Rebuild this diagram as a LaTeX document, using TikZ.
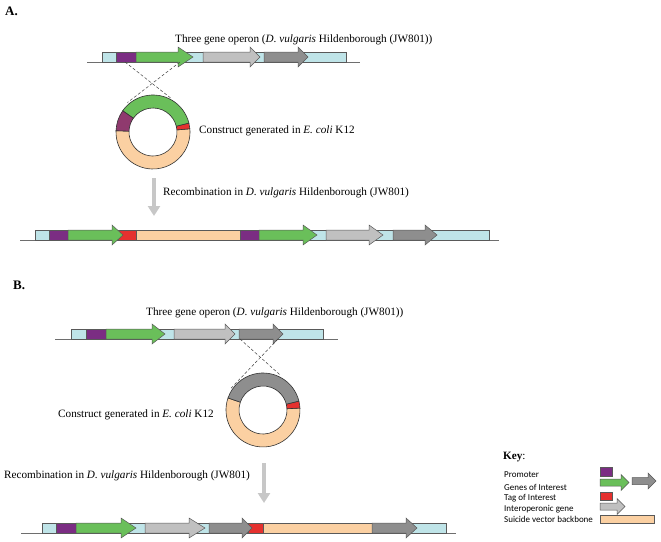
\documentclass[tikz,border=0pt]{standalone}
\usepackage{fontspec}
\setmainfont{Liberation Serif}
\newfontfamily\keyfont{Carlito}
\usetikzlibrary{arrows.meta}

\definecolor{spacer}{RGB}{191,228,232}
\definecolor{promoter}{RGB}{123,45,131}
\definecolor{plasmidpurple}{RGB}{143,58,110}
\definecolor{goi}{RGB}{106,191,90}
\definecolor{interop}{RGB}{192,192,192}
\definecolor{darkgene}{RGB}{142,142,142}
\definecolor{tag}{RGB}{229,49,47}
\definecolor{backbone}{RGB}{251,208,162}
\definecolor{edgegray}{RGB}{89,89,89}
\definecolor{strandgray}{RGB}{110,110,110}
\definecolor{arrowgray}{RGB}{199,199,199}

% gene arrow: colour, start, head start, tip, strand y
\newcommand{\gene}[5]{\filldraw[part, fill=#1] (#2,#5) -- (#2,#5-10) -- (#3,#5-10) -- (#3,#5-15)
	-- (#4,#5-5) -- (#3,#5+5) -- (#3,#5) -- cycle;}
% plain block: colour, start, end, strand y
\newcommand{\block}[4]{\filldraw[part, fill=#1] (#2,#4) rectangle (#3,#4-10);}
% plasmid segment: colour, start angle, end angle
\newcommand{\ringpart}[3]{\filldraw[ring, fill=#1] (#2:37) arc[start angle=#2, end angle=#3, radius=37]
	-- (#3:24) arc[start angle=#3, end angle=#2, radius=24] -- cycle;}
% small key arrow: colour, start, head start, tip, middle y
\newcommand{\keyarrow}[5]{\filldraw[part, fill=#1] (#2,#5+3.5) -- (#2,#5-3.5) -- (#3,#5-3.5) -- (#3,#5-8)
	-- (#4,#5) -- (#3,#5+8) -- (#3,#5+3.5) -- cycle;}

\begin{document}
\begin{tikzpicture}
	[x=1pt, y=-1pt,
	strand/.style={draw=strandgray, line width=0.8pt},
	part/.style={draw=edgegray, line width=0.5pt},
	ring/.style={draw=black!80, line width=0.6pt},
	crossover/.style={densely dashed, line width=0.5pt, draw=black!75},
	recomb/.style={draw=arrowgray, line width=4pt, -{Triangle[width=12pt, length=10pt]}},
	label/.style={anchor=west, inner sep=0pt, font=\fontsize{11.2}{13}\selectfont},
	panel/.style={anchor=west, inner sep=0pt, font=\fontsize{13}{15}\selectfont\bfseries},
	keylabel/.style={anchor=west, inner sep=0pt, font=\keyfont\fontsize{9}{10}\selectfont}]
	\useasboundingbox (0,0) rectangle (661,541);

	% panel A
	\node (panelA) [panel] at (5,11) {A.};
	\node (operonA) [label] at (175,40) {Three gene operon (\textit{D. vulgaris} Hildenborough (JW801))};
	\draw[strand] (87,62) -- (360,62);
	\block{spacer}{102}{346}{62}
	\block{promoter}{116}{136}{62}
	\gene{goi}{136}{178}{193}{62}
	\gene{interop}{203}{250}{260}{62}
	\gene{darkgene}{264}{298}{308}{62}
	\coordinate (a-left) at (125,62);
	\coordinate (a-right) at (180,62);

	\begin{scope}[shift={(153,132)}, yscale=-1]
		\ringpart{backbone}{178}{365}
		\ringpart{tag}{5}{14}
		\ringpart{goi}{14}{145}
		\ringpart{plasmidpurple}{145}{178}
		\coordinate (pa-right) at (60:38);
		\coordinate (pa-left) at (131:39);
	\end{scope}
	\draw[crossover] (a-left) -- (pa-right);
	\draw[crossover] (a-right) -- (pa-left);
	\node (constructA) [label] at (199,131) {Construct generated in \textit{E. coli} K12};

	\coordinate (ra-top) at (154,178);
	\coordinate (ra-bot) at (154,216);
	\draw[recomb] (ra-top) -- (ra-bot);
	\node (recombA) [label] at (163,193) {Recombination in \textit{D. vulgaris} Hildenborough (JW801)};

	\draw[strand] (20,240) -- (499,240);
	\block{spacer}{35}{489}{240}
	\block{promoter}{49}{68}{240}
	\block{tag}{118}{136}{240}
	\gene{goi}{68}{112}{123}{240}
	\block{backbone}{136}{240}{240}
	\block{promoter}{240}{259}{240}
	\gene{goi}{259}{303}{317}{240}
	\gene{interop}{326}{369}{383}{240}
	\gene{darkgene}{393}{425}{437}{240}

	% panel B
	\node (panelB) [panel] at (13,285) {B.};
	\node (operonB) [label] at (146,313) {Three gene operon (\textit{D. vulgaris} Hildenborough (JW801))};
	\draw[strand] (55,339) -- (338,339);
	\block{spacer}{71}{323}{339}
	\block{promoter}{86}{106}{339}
	\gene{goi}{106}{152}{165}{339}
	\gene{interop}{174}{225}{235}{339}
	\gene{darkgene}{239}{273}{283}{339}
	\coordinate (b-left) at (240,339);
	\coordinate (b-right) at (278,339);

	\begin{scope}[shift={(263,410)}, yscale=-1]
		\ringpart{backbone}{161}{363}
		\ringpart{tag}{3}{14}
		\ringpart{darkgene}{14}{161}
		\coordinate (pb-right) at (64:39);
		\coordinate (pb-left) at (148:39);
	\end{scope}
	\draw[crossover] (b-left) -- (pb-right);
	\draw[crossover] (b-right) -- (pb-left);
	\node (constructB) [label] at (58,415) {Construct generated in \textit{E. coli} K12};

	\coordinate (rb-top) at (264,463);
	\coordinate (rb-bot) at (264,503);
	\draw[recomb] (rb-top) -- (rb-bot);
	\node (recombB) [label] at (4,476) {Recombination in \textit{D. vulgaris} Hildenborough (JW801)};

	\draw[strand] (21,533) -- (456,533);
	\block{spacer}{42}{446}{533}
	\block{promoter}{56}{76}{533}
	\gene{goi}{76}{121}{136}{533}
	\gene{interop}{145}{189}{205}{533}
	\block{tag}{248}{263}{533}
	\gene{darkgene}{209}{242}{252}{533}
	\block{backbone}{263}{372}{533}
	\gene{darkgene}{372}{406}{417}{533}

	% key
	\node (key) [label] at (503,457) {\textbf{Key}:};
	\node (promoterkey) [keylabel] at (504,475) {Promoter};
	\node (goikey) [keylabel] at (504,487) {Genes of Interest};
	\node (tagkey) [keylabel] at (504,498) {Tag of Interest};
	\node (interopkey) [keylabel] at (504,509) {Interoperonic gene};
	\node (backbonekey) [keylabel] at (504,519) {Suicide vector backbone};
	\filldraw[part, fill=promoter] (600,467) rectangle (612,476);
	\keyarrow{goi}{600}{621}{629}{482.5}
	\keyarrow{darkgene}{632}{648}{656}{481}
	\filldraw[part, fill=tag] (600,492) rectangle (612,500);
	\keyarrow{interop}{600}{617}{625}{506.5}
	\filldraw[part, fill=backbone] (600,515) rectangle (654,523);
\end{tikzpicture}
\end{document}
